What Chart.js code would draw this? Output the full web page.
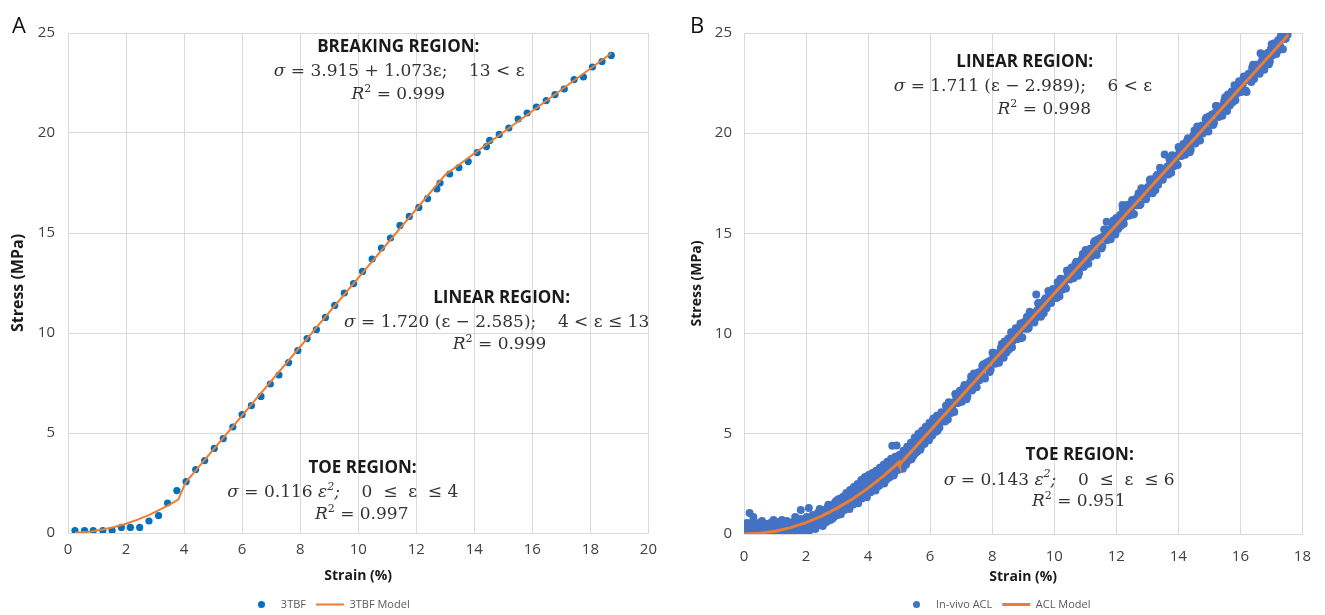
<!DOCTYPE html>
<html>
<head>
<meta charset="utf-8">
<script src="https://cdn.jsdelivr.net/npm/chart.js@4.4.0/dist/chart.umd.min.js"></script>
<style>
  html, body { margin: 0; background: #fff; }
  body { width: 1325px; height: 615px; overflow: hidden; position: relative; }
  canvas { position: absolute; top: 0; }
  .panel { position: absolute; top: 13px; font: 22px/22px 'Open Sans'; color: #111; }
</style>
</head>
<body>
<canvas id="chartA" width="665" height="620" style="left:0"></canvas>
<canvas id="chartB" width="645" height="620" style="left:680px"></canvas>
<div class="panel" style="left:12px">A</div>
<div class="panel" style="left:690px">B</div>
<script>
// ---- data ----
const strainTicksA = [0, 2, 4, 6, 8, 10, 12, 14, 16, 18, 20];
const strainTicksB = [0, 2, 4, 6, 8, 10, 12, 14, 16, 18];
const stressTicks = [0, 5, 10, 15, 20, 25];

// panel A: 3TBF measurements
const tbfStrain = [0.24, 0.57, 0.87, 1.20, 1.52, 1.84, 2.15, 2.47, 2.79, 3.12, 3.43, 3.75, 4.07, 4.40, 4.71,
  5.04, 5.35, 5.68, 6.00, 6.32, 6.65, 6.97, 7.27, 7.60, 7.92, 8.24, 8.56, 8.87, 9.19, 9.52, 9.84, 10.15,
  10.48, 10.80, 11.11, 11.44, 11.76, 12.09, 12.39, 12.71, 12.82, 13.15, 13.47, 13.79, 14.10, 14.42, 14.53,
  14.86, 15.19, 15.51, 15.82, 16.14, 16.48, 16.78, 17.10, 17.44, 17.76, 18.07, 18.40, 18.72];
const tbfStress = [0.12, 0.12, 0.12, 0.12, 0.12, 0.28, 0.28, 0.28, 0.60, 0.87, 1.50, 2.12, 2.57, 3.17, 3.62,
  4.23, 4.72, 5.30, 5.92, 6.37, 6.83, 7.45, 7.90, 8.52, 9.12, 9.72, 10.17, 10.78, 11.38, 12.00, 12.47, 13.08,
  13.70, 14.25, 14.75, 15.38, 15.83, 16.28, 16.72, 17.20, 17.50, 17.95, 18.27, 18.57, 19.02, 19.32, 19.63,
  19.93, 20.25, 20.70, 21.00, 21.30, 21.62, 21.92, 22.20, 22.67, 22.80, 23.30, 23.57, 23.88];

// panel A: piecewise model
const tbfModelStrain = [0.24, 0.8, 1.2, 1.6, 2.0, 2.4, 2.8, 3.2, 3.5, 3.8, 4.05, 13.0, 18.72];
const tbfModelStress = [0.01, 0.07, 0.17, 0.30, 0.46, 0.67, 0.91, 1.19, 1.42, 1.67, 2.52, 17.91, 23.99];

// panel B: in-vivo ACL measurements
const aclStrain = [
  0.00, 0.02, 0.03, 0.05, 0.06, 0.08, 0.10, 0.12, 0.14, 0.16, 0.18, 0.20, 0.22, 0.25, 0.28, 0.30, 0.32, 0.35,
  0.38, 0.40, 0.43, 0.46, 0.50, 0.52, 0.55, 0.58, 0.62, 0.65, 0.68, 0.72, 0.75, 0.78, 0.82, 0.85, 0.88, 0.92,
  0.95, 0.98, 1.02, 1.05, 1.08, 1.12, 1.15, 1.18, 1.22, 1.25, 1.28, 1.32, 1.35, 1.38, 1.42, 1.45, 1.48, 1.52,
  1.55, 1.58, 1.62, 1.65, 1.68, 1.72, 1.75, 1.78, 1.82, 1.83, 1.86, 1.90, 1.94, 1.98, 2.02, 2.06, 2.09, 2.10,
  2.14, 2.18, 2.22, 2.26, 2.30,
  2.34, 2.38, 2.42, 2.46, 2.50, 2.54, 2.58, 2.62, 2.66, 2.70, 2.74, 2.78, 2.82, 2.86, 2.90, 2.94, 2.98, 3.02,
  3.06, 3.10, 3.14, 3.18, 3.22, 3.26, 3.30, 3.34, 3.38, 3.42, 3.46, 3.50, 3.54, 3.58, 3.62, 3.66, 3.70, 3.74,
  3.78, 3.82, 3.86, 3.90, 3.94, 3.98, 4.02, 4.06, 4.10, 4.14, 4.18, 4.22, 4.26, 4.30, 4.34, 4.38, 4.42, 4.46,
  4.50, 4.54, 4.58, 4.62, 4.66, 4.70, 4.74, 4.78, 4.80, 4.84, 4.88, 4.92, 4.94, 4.98, 5.02, 5.06, 5.10, 5.14,
  5.18, 5.22, 5.26, 5.30, 5.34, 5.38, 5.42, 5.46, 5.50, 5.54, 5.58, 5.62, 5.66, 5.70, 5.74, 5.78, 5.82, 5.86,
  5.90, 5.94, 5.98, 6.02, 6.06, 6.10, 6.14, 6.18, 6.22, 6.26, 6.30,
  6.36, 6.42, 6.48, 6.54, 6.60, 6.66, 6.72, 6.78, 6.84, 6.90, 6.96, 7.02, 7.08, 7.14, 7.20, 7.26, 7.32, 7.38,
  7.44, 7.50, 7.56, 7.62, 7.68, 7.74, 7.80, 7.86, 7.92, 7.98, 8.04, 8.10, 8.16, 8.22, 8.28, 8.34, 8.40, 8.46,
  8.52, 8.58, 8.64, 8.70, 8.76, 8.82, 8.88, 8.94, 9.00, 9.06, 9.12, 9.18, 9.24, 9.30, 9.36, 9.42, 9.48, 9.54,
  9.60, 9.66, 9.72, 9.78, 9.84, 9.90, 9.96, 10.02, 10.08, 10.14, 10.20, 10.26, 10.32, 10.38, 10.44, 10.50,
  10.56, 10.62, 10.68, 10.74, 10.80, 10.86, 10.92, 10.98, 11.04, 11.10, 11.16, 11.22, 11.28, 11.34, 11.40,
  11.46, 11.52, 11.58, 11.64, 11.70, 11.76, 11.82, 11.88, 11.94, 12.00, 12.06, 12.12, 12.18, 12.24, 12.30,
  12.36, 12.42, 12.48, 12.54, 12.60, 12.66, 12.72, 12.78, 12.84, 12.90, 12.96, 13.02, 13.08, 13.14, 13.20,
  13.26, 13.32, 13.38, 13.44, 13.50, 13.56, 13.62, 13.68, 13.74, 13.80, 13.86, 13.92, 13.98, 14.04, 14.10,
  14.16, 14.22, 14.28, 14.34, 14.40, 14.46, 14.52, 14.58, 14.64, 14.70, 14.76, 14.82, 14.88, 14.94, 15.00,
  15.06, 15.12, 15.18, 15.24, 15.30, 15.36, 15.42, 15.48, 15.54, 15.60, 15.66, 15.72, 15.78, 15.84, 15.90,
  15.96, 16.02, 16.08, 16.14, 16.20, 16.26, 16.32, 16.38, 16.44, 16.50, 16.56, 16.62, 16.68, 16.74, 16.80,
  16.86, 16.92, 16.98, 17.04, 17.10, 17.16, 17.22, 17.28, 17.34, 17.40, 17.46, 17.52,
  11.69, 12.20, 16.65];
const aclStress = [
  0.00, 0.25, 0.45, -0.05, 0.15, 0.35, 0.55, 0.05, 0.20, 0.40, 1.05, 0.10, -0.05, 0.30, 0.60, 0.85, 0.15, 0.00,
  0.45, 0.25, 0.10, 0.55, 0.35, 0.05, 0.20, 0.65, 0.40, -0.05, 0.25, 0.50, 0.10, 0.35, 0.05, 0.55, 0.20, 0.40,
  0.70, 0.00, 0.30, 0.60, 0.15, 0.45, -0.05, 0.35, 0.70, 0.20, 0.50, 0.05, 0.40, 0.65, 0.25, 0.00, 0.55, 0.30,
  0.10, 0.60, 0.40, 0.85, 0.05, 0.30, 0.55, 0.15, 0.75, 1.20, 0.40, 0.10, 0.60, 0.30, 0.85, 0.50, 1.30, 0.15,
  0.70, 0.40, 0.95, 0.55, 0.25,
  0.40, 1.05, 0.55, 1.15, 0.70, 0.40, 1.20, 0.85, 0.60, 1.35, 0.95, 0.70, 1.45, 1.05, 0.85, 1.60, 1.20, 0.95,
  1.75, 1.35, 1.10, 1.85, 1.55, 1.25, 2.05, 1.70, 1.40, 2.20, 1.85, 1.50, 2.35, 2.00, 1.65, 2.50, 2.15, 1.80,
  2.70, 2.30, 1.90, 2.85, 2.45, 2.05, 2.95, 2.60, 2.15, 3.05, 2.75, 2.30, 3.15, 2.85, 2.40, 3.30, 3.00, 2.55,
  3.45, 3.15, 2.70, 3.60, 3.30, 2.85, 3.75, 4.40, 3.45, 3.00, 3.85, 4.42, 3.55, 3.20, 3.95, 3.70, 3.30, 4.15,
  3.85, 3.45, 4.35, 4.05, 3.70, 4.55, 4.25, 3.90, 4.80, 4.50, 4.10, 5.00, 4.70, 4.30, 5.15, 4.90, 4.50, 5.35,
  5.05, 4.70, 5.55, 5.25, 4.90, 5.75, 5.45, 5.10, 5.90, 5.60, 5.30,
  6.07, 5.77, 5.62, 6.23, 6.58, 6.03, 6.43, 6.09, 6.84, 6.54, 7.15, 6.60, 7.30, 7.00, 6.86, 7.46, 7.86, 7.26,
  7.67, 7.32, 8.07, 7.77, 8.38, 7.83, 8.53, 8.24, 8.09, 8.69, 9.04, 8.50, 8.90, 8.55, 9.30, 9.01, 9.61, 9.06,
  9.76, 9.47, 9.32, 9.92, 10.27, 9.73, 10.13, 9.78, 10.54, 10.24, 10.84, 10.29, 11.00, 10.70, 10.55, 11.95,
  11.51, 10.96, 11.36, 11.01, 11.77, 11.47, 12.07, 11.53, 12.23, 11.93, 11.78, 12.39, 12.74, 12.19, 12.59,
  12.25, 13.00, 12.70, 13.30, 12.76, 13.46, 13.16, 13.02, 13.62, 13.97, 13.42, 13.83, 13.48, 14.23, 13.93,
  14.54, 13.99, 14.69, 14.39, 14.25, 14.85, 15.20, 14.66, 15.06, 14.71, 15.46, 15.17, 15.77, 15.22, 15.92,
  15.63, 15.48, 16.08, 16.43, 15.89, 16.29, 15.94, 16.69, 16.40, 17.00, 16.45, 17.16, 16.86, 16.71, 17.31,
  17.67, 17.12, 17.52, 17.17, 17.93, 17.63, 18.23, 17.68, 18.94, 18.09, 17.94, 18.55, 18.90, 18.35, 18.75,
  18.41, 19.16, 18.86, 19.46, 18.92, 19.62, 19.32, 19.17, 19.78, 20.13, 19.58, 19.99, 19.64, 20.39, 20.09,
  20.70, 20.15, 20.85, 20.55, 20.41, 21.01, 21.36, 20.81, 21.22, 20.87, 21.62, 21.32, 21.93, 21.38, 22.08,
  21.79, 21.64, 22.24, 22.59, 22.05, 22.45, 22.10, 22.05, 22.96, 22.66, 23.26, 22.71, 23.42, 23.12, 22.97,
  23.58, 23.93, 23.38, 23.78, 23.44, 24.19, 23.89, 24.49, 23.95, 24.65, 24.35, 24.80, 24.76, 24.71, 24.91,
  15.58, 16.42, 23.99];

// panel B: the denser half of the cloud, between the points above
const aclStrainFill = [
  2.36, 2.40, 2.44, 2.48, 2.52, 2.56, 2.60, 2.64, 2.68, 2.72, 2.76, 2.80, 2.84, 2.88, 2.92, 2.96, 3.00, 3.04,
  3.08, 3.12, 3.16, 3.20, 3.24, 3.28, 3.32, 3.36, 3.40, 3.44, 3.48, 3.52, 3.56, 3.60, 3.64, 3.68, 3.72, 3.76,
  3.80, 3.84, 3.88, 3.92, 3.96, 4.00, 4.04, 4.08, 4.12, 4.16, 4.20, 4.24, 4.28, 4.32, 4.36, 4.40, 4.44, 4.48,
  4.52, 4.56, 4.60, 4.64, 4.68, 4.72, 4.76, 4.82, 4.86, 4.90, 4.96, 5.00, 5.04, 5.08, 5.12, 5.16, 5.20, 5.24,
  5.28, 5.32, 5.36, 5.40, 5.44, 5.48, 5.52, 5.56, 5.60, 5.64, 5.68, 5.72, 5.76, 5.80, 5.84, 5.88, 5.92, 5.96,
  6.00, 6.04, 6.08, 6.12, 6.16, 6.20, 6.24, 6.28, 6.32,
  6.39, 6.45, 6.51, 6.57, 6.63, 6.69, 6.75, 6.81, 6.87, 6.93, 6.99, 7.05, 7.11, 7.17, 7.23, 7.29, 7.35, 7.41,
  7.47, 7.53, 7.59, 7.65, 7.71, 7.77, 7.83, 7.89, 7.95, 8.01, 8.07, 8.13, 8.19, 8.25, 8.31, 8.37, 8.43, 8.49,
  8.55, 8.61, 8.67, 8.73, 8.79, 8.85, 8.91, 8.97, 9.03, 9.09, 9.15, 9.21, 9.27, 9.33, 9.39, 9.45, 9.51, 9.57,
  9.63, 9.69, 9.75, 9.81, 9.87, 9.93, 9.99, 10.05, 10.11, 10.17, 10.23, 10.29, 10.35, 10.41, 10.47, 10.53,
  10.59, 10.65, 10.71, 10.77, 10.83, 10.89, 10.95, 11.01, 11.07, 11.13, 11.19, 11.25, 11.31, 11.37, 11.43,
  11.49, 11.55, 11.61, 11.67, 11.73, 11.79, 11.85, 11.91, 11.97, 12.03, 12.09, 12.15, 12.21, 12.27, 12.33,
  12.39, 12.45, 12.51, 12.57, 12.63, 12.69, 12.75, 12.81, 12.87, 12.93, 12.99, 13.05, 13.11, 13.17, 13.23,
  13.29, 13.35, 13.41, 13.47, 13.53, 13.59, 13.65, 13.71, 13.77, 13.83, 13.89, 13.95, 14.01, 14.07, 14.13,
  14.19, 14.25, 14.31, 14.37, 14.43, 14.49, 14.55, 14.61, 14.67, 14.73, 14.79, 14.85, 14.91, 14.97, 15.03,
  15.09, 15.15, 15.21, 15.27, 15.33, 15.39, 15.45, 15.51, 15.57, 15.63, 15.69, 15.75, 15.81, 15.87, 15.93,
  15.99, 16.05, 16.11, 16.17, 16.23, 16.29, 16.35, 16.41, 16.47, 16.53, 16.59, 16.65, 16.71, 16.77, 16.83,
  16.89, 16.95, 17.01, 17.07, 17.13, 17.19, 17.25, 17.31, 17.37, 17.43, 17.49];
const aclStressFill = [
  0.90, 0.52, 1.25, 0.78, 1.16, 0.54, 0.97, 1.10, 0.73, 1.46, 0.99, 1.37, 0.75, 1.19, 1.32, 0.95, 1.69, 1.22,
  1.61, 0.99, 1.43, 1.56, 1.20, 1.94, 1.48, 1.86, 1.25, 1.69, 1.83, 1.47, 2.21, 1.75, 2.15, 1.54, 1.98, 2.12,
  1.77, 2.51, 2.05, 2.45, 1.84, 2.29, 2.43, 2.08, 2.83, 2.37, 2.77, 2.17, 2.62, 2.77, 2.42, 3.17, 2.72, 3.12,
  2.52, 2.97, 3.13, 2.78, 3.53, 3.09, 3.49, 2.92, 3.38, 3.53, 3.22, 3.90, 3.41, 3.83, 3.25, 3.71, 3.88, 3.55,
  4.32, 3.89, 4.31, 3.73, 4.19, 4.36, 4.03, 4.80, 4.37, 4.79, 4.20, 4.67, 4.84, 4.51, 5.28, 4.85, 5.27, 4.68,
  5.15, 5.32, 4.99, 5.76, 5.33, 5.74, 5.16, 5.63, 5.80,
  5.62, 6.02, 6.40, 5.71, 6.23, 6.55, 6.14, 6.99, 6.56, 6.89, 6.65, 7.05, 7.43, 6.73, 7.26, 7.58, 7.16, 8.01,
  7.59, 7.92, 7.67, 8.08, 8.46, 7.76, 8.28, 8.61, 8.19, 9.04, 8.61, 8.95, 8.70, 9.10, 9.48, 8.79, 9.31, 9.63,
  9.22, 10.07, 9.64, 9.97, 9.73, 10.13, 10.51, 9.81, 10.34, 10.66, 10.24, 11.09, 10.67, 11.00, 10.75, 11.16,
  11.54, 10.84, 11.36, 11.69, 11.27, 12.12, 11.69, 12.03, 11.78, 12.18, 12.56, 11.87, 12.39, 12.71, 12.30,
  13.15, 12.72, 13.05, 12.81, 13.21, 13.59, 12.89, 13.42, 13.74, 13.32, 14.17, 13.75, 14.08, 13.83, 14.24,
  14.62, 13.92, 14.44, 14.77, 14.35, 15.20, 14.77, 15.11, 14.86, 15.26, 15.64, 14.95, 15.47, 15.79, 15.38,
  16.23, 15.80, 16.13, 15.89, 16.29, 16.67, 15.97, 16.50, 16.82, 16.40, 17.25, 16.83, 17.16, 16.91, 17.32,
  17.70, 17.00, 17.52, 17.85, 17.43, 18.28, 17.85, 18.19, 17.94, 18.34, 18.72, 18.03, 18.55, 18.87, 18.46,
  19.31, 18.88, 19.21, 18.97, 19.37, 19.75, 19.05, 19.58, 19.90, 19.48, 20.33, 19.91, 20.24, 19.99, 20.40,
  20.78, 20.08, 20.60, 20.93, 20.51, 21.36, 20.93, 21.27, 21.02, 21.42, 21.80, 21.11, 21.63, 21.95, 21.54,
  22.39, 21.96, 22.29, 22.05, 22.45, 22.83, 22.13, 22.66, 22.98, 22.56, 23.41, 22.99, 23.32, 23.07, 23.47,
  23.86, 23.16, 23.68, 24.01, 23.59, 24.44, 24.01, 24.35, 24.10, 24.50, 24.88, 24.19, 24.71, 24.95];

// panel B: piecewise model
const aclModelStrain = [0, 0.5, 1.0, 1.5, 2.0, 2.5, 3.0, 3.5, 4.0, 4.5, 5.0, 5.02, 17.55];
const aclModelStress = [0, 0.04, 0.14, 0.32, 0.57, 0.89, 1.29, 1.75, 2.29, 2.90, 3.58, 3.48, 24.91];

// region notes, placed in data units
const notesA = [
  { x: 11.38, y: 24.30, parts: [['BREAKING REGION:', 'h']] },
  { x: 11.41, y: 23.05, parts: [['σ', 'i'], [' = 3.915 + 1.073ε;    13 < ε', '']] },
  { x: 11.38, y: 21.90, parts: [['R', 'i'], ['2', 's'], [' = 0.999', '']] },
  { x: 14.94, y: 11.75, parts: [['LINEAR REGION:', 'h']] },
  { x: 14.77, y: 10.50, parts: [['σ', 'i'], [' = 1.720 (ε − 2.585);    4 < ε ≤ 13', '']] },
  { x: 14.87, y: 9.40, parts: [['R', 'i'], ['2', 's'], [' = 0.999', '']] },
  { x: 10.15, y: 3.25, parts: [['TOE REGION:', 'h']] },
  { x: 9.47, y: 2.00, parts: [['σ', 'i'], [' = 0.116 ', ''], ['ε', 'i'], ['2', 'si'], [';', 'i'], ['    0  ≤  ε  ≤ 4', '']] },
  { x: 10.12, y: 0.90, parts: [['R', 'i'], ['2', 's'], [' = 0.997', '']] }
];
const notesB = [
  { x: 9.05, y: 23.55, parts: [['LINEAR REGION:', 'h']] },
  { x: 8.99, y: 22.31, parts: [['σ', 'i'], [' = 1.711 (ε − 2.989);    6 < ε', '']] },
  { x: 9.68, y: 21.16, parts: [['R', 'i'], ['2', 's'], [' = 0.998', '']] },
  { x: 10.82, y: 3.94, parts: [['TOE REGION:', 'h']] },
  { x: 10.16, y: 2.69, parts: [['σ', 'i'], [' = 0.143 ', ''], ['ε', 'i'], ['2', 'si'], [';', 'i'], ['    0  ≤  ε  ≤ 6', '']] },
  { x: 10.79, y: 1.60, parts: [['R', 'i'], ['2', 's'], [' = 0.951', '']] }
];

// ---- drawing ----
const GRID = '#d9d9d9';
const TICK = '#404040';
const BLUE_A = '#0070c0';
const BLUE_B = '#4472c4';
const ORANGE = '#ed7d31';

const FONTS = {
  h: 'bold 17px "Open Sans"',
  '': '17px "DejaVu Serif"',
  i: 'italic 17px "DejaVu Serif"',
  s: '11px "DejaVu Serif"',
  si: 'italic 11px "DejaVu Serif"'
};

function drawRich(ctx, parts, cx, cy) {
  let total = 0;
  const widths = parts.map(([t, k]) => {
    ctx.font = FONTS[k];
    const w = ctx.measureText(t).width;
    total += w;
    return w;
  });
  let x = cx - total / 2;
  parts.forEach(([t, k], i) => {
    ctx.font = FONTS[k];
    ctx.fillStyle = k === 'h' ? '#1a1a1a' : '#333333';
    ctx.fillText(t, x, k[0] === 's' ? cy - 6 : cy);
    x += widths[i];
  });
}

const notesPlugin = {
  id: 'notes',
  afterDatasetsDraw(chart, args, opts) {
    const { ctx, scales } = chart;
    ctx.save();
    ctx.textAlign = 'left';
    ctx.textBaseline = 'middle';
    opts.items.forEach(n => {
      drawRich(ctx, n.parts, scales.x.getPixelForValue(n.x), scales.y.getPixelForValue(n.y));
    });
    ctx.restore();
  }
};

function dotImage(color, d) {
  const c = document.createElement('canvas');
  c.width = c.height = d;
  const g = c.getContext('2d');
  g.fillStyle = color;
  g.beginPath();
  g.arc(d / 2, d / 2, d / 2, 0, Math.PI * 2);
  g.fill();
  return c;
}

function toPoints(xs, ys) {
  return xs.map((x, i) => ({ x, y: ys[i] }));
}

function strainAxis(ticks, tickPad, titlePad, height) {
  return {
    type: 'linear',
    min: ticks[0],
    max: ticks[ticks.length - 1],
    afterBuildTicks: s => { s.ticks = ticks.map(v => ({ value: v })); },
    afterFit: s => { s.height = height; },
    grid: { color: GRID, drawTicks: false },
    border: { color: GRID },
    ticks: { padding: tickPad, color: TICK, font: { family: 'Open Sans', size: 15 } },
    title: {
      display: true, text: 'Strain (%)', color: '#1a1a1a',
      font: { family: 'Open Sans', size: 14, weight: 'bold' },
      padding: { top: 0, bottom: titlePad }
    }
  };
}

function stressAxis(width, tickPad, titleSize) {
  return {
    type: 'linear',
    min: 0,
    max: 25,
    afterBuildTicks: s => { s.ticks = stressTicks.map(v => ({ value: v })); },
    afterFit: s => { s.width = width; },
    grid: { color: GRID, drawTicks: false },
    border: { color: GRID },
    ticks: { padding: tickPad, color: TICK, font: { family: 'Open Sans', size: 15 } },
    title: {
      display: true, text: 'Stress (MPa)', color: '#1a1a1a',
      font: { family: 'Open Sans', size: titleSize, weight: 'bold' },
      padding: { top: 9, bottom: 0 }
    }
  };
}

function makeChart(id, cfg) {
  return new Chart(document.getElementById(id), {
    type: 'scatter',
    data: {
      datasets: [
        {
          label: cfg.dotLabel,
          data: toPoints(cfg.xs, cfg.ys),
          order: 2,
          pointRadius: cfg.dotRadius,
          pointBorderWidth: 0,
          pointBackgroundColor: cfg.dotColor,
          pointBorderColor: cfg.dotColor,
          backgroundColor: cfg.dotColor
        },
        {
          label: cfg.lineLabel,
          data: toPoints(cfg.mx, cfg.my),
          order: 1,
          showLine: true,
          borderColor: ORANGE,
          borderWidth: cfg.lineWidth,
          pointRadius: 0,
          pointStyle: 'line',
          pointBorderColor: ORANGE,
          pointBorderWidth: cfg.lineWidth
        }
      ]
    },
    options: {
      responsive: false,
      animation: false,
      devicePixelRatio: 1,
      events: [],
      layout: { padding: { top: 33, right: cfg.padRight, left: 0, bottom: 0 } },
      scales: { x: cfg.xAxis, y: cfg.yAxis },
      plugins: {
        tooltip: { enabled: false },
        notes: { items: cfg.notes },
        legend: {
          position: 'bottom',
          labels: {
            usePointStyle: true,
            pointStyleWidth: 28,
            padding: 10,
            color: '#595959',
            font: { family: 'Open Sans', size: 11 },
            sort: (a, b) => a.datasetIndex - b.datasetIndex,
            generateLabels: chart => Chart.defaults.plugins.legend.labels.generateLabels(chart).map(item => {
              if (item.datasetIndex === 0) item.pointStyle = dotImage(cfg.dotColor, 7);
              return item;
            })
          }
        }
      }
    },
    plugins: [notesPlugin]
  });
}

makeChart('chartA', {
  dotLabel: '3TBF', lineLabel: '3TBF Model',
  xs: tbfStrain, ys: tbfStress, mx: tbfModelStrain, my: tbfModelStress,
  dotColor: BLUE_A, dotRadius: 3.6, lineWidth: 2,
  padRight: 8,
  xAxis: strainAxis(strainTicksA, 8, 5, 56),
  yAxis: stressAxis(68, 13, 16),
  notes: notesA
});

makeChart('chartB', {
  dotLabel: 'In-vivo ACL', lineLabel: 'ACL Model',
  xs: aclStrain.concat(aclStrainFill), ys: aclStress.concat(aclStressFill),
  mx: aclModelStrain, my: aclModelStress,
  dotColor: BLUE_B, dotRadius: 4, lineWidth: 3,
  padRight: 12,
  xAxis: strainAxis(strainTicksB, 14, 4, 55),
  yAxis: stressAxis(64, 12, 14),
  notes: notesB
});
</script>
</body>
</html>
